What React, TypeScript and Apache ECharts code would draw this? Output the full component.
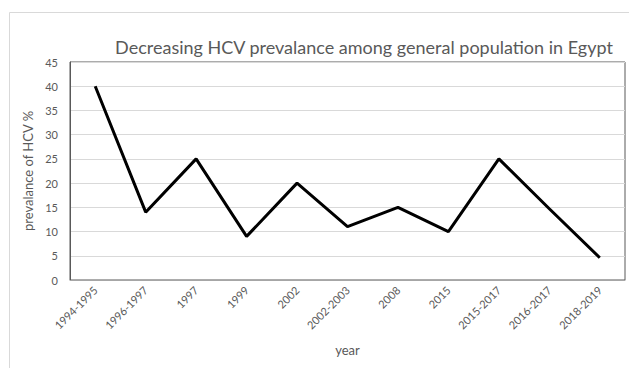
import React, { useEffect, useRef } from "react";
import * as echarts from "echarts";

const categories = [
  "1994-1995", "1996-1997", "1997", "1999", "2002", "2002-2003",
  "2008", "2015", "2015-2017", "2016-2017", "2018-2019",
];
const prevalence = [40, 14, 25, 9, 20, 11, 15, 10, 25, 14.7, 4.6];

const titleText = "Decreasing HCV prevalance among general population in Egypt";
const yAxisName = "prevalance of HCV %";
const xAxisName = "year";

const FONT = "Lato, 'Open Sans', sans-serif";

export default function App() {
  const ref = useRef<HTMLDivElement>(null);
  useEffect(() => {
    if (!ref.current) return;
    const chart = echarts.init(ref.current, null, { renderer: "svg" });
    chart.setOption({
      animation: false,
      backgroundColor: "#ffffff",
      textStyle: { fontFamily: FONT },
      title: {
        text: titleText,
        left: 359,
        top: 33,
        textAlign: "center",
        textStyle: { fontFamily: FONT, fontSize: 18, fontWeight: "normal", color: "#595959" },
      },
      graphic: [
        {
          type: "rect",
          shape: { x: 9.5, y: 12.5, width: 640, height: 400 },
          style: { fill: "none", stroke: "#d9d9d9", lineWidth: 1 },
          silent: true,
        },
      ],
      grid: {
        left: 70,
        right: 4,
        top: 62,
        bottom: 88,
        show: true,
        borderColor: "#595959",
        borderWidth: 1,
      },
      xAxis: {
        type: "category",
        data: categories,
        boundaryGap: true,
        name: xAxisName,
        nameLocation: "middle",
        nameGap: 63,
        nameTextStyle: { fontFamily: FONT, fontSize: 13, color: "#595959" },
        axisLine: { show: true, lineStyle: { color: "#a6a6a6", width: 1 } },
        axisTick: { show: false },
        axisLabel: {
          interval: 0,
          rotate: 45,
          fontFamily: FONT,
          fontSize: 11,
          color: "#595959",
          margin: 8,
        },
        splitLine: { show: false },
      },
      yAxis: {
        type: "value",
        min: 0,
        max: 45,
        interval: 5,
        name: yAxisName,
        nameLocation: "middle",
        nameGap: 27,
        nameTextStyle: { fontFamily: FONT, fontSize: 13, color: "#595959" },
        axisLine: { show: true, lineStyle: { color: "#595959", width: 1 } },
        axisTick: { show: false },
        axisLabel: { fontFamily: FONT, fontSize: 11, color: "#595959", margin: 12 },
        splitLine: { show: true, lineStyle: { color: "#d9d9d9", width: 1 } },
      },
      series: [
        {
          type: "line",
          data: prevalence,
          symbol: "none",
          lineStyle: { color: "#000000", width: 3 },
        },
      ],
    });
    return () => chart.dispose();
  }, []);
  return (
    <div
      ref={ref}
      style={{ position: "absolute", left: 0, top: 0, width: 629, height: 368 }}
    />
  );
}
